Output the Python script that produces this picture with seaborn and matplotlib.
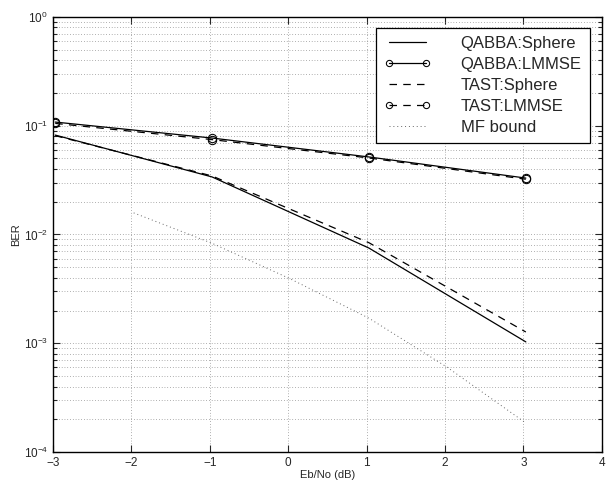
import matplotlib
matplotlib.use('Agg')
import matplotlib.pyplot as plt
import seaborn as sns
import numpy as np

sns.set_style('ticks')
plt.rcParams['font.family'] = ['Liberation Sans', 'DejaVu Sans']

# measured points (Eb/No in dB, BER)
snr = [-2.97, -0.97, 1.03, 3.03]
qabba_sphere = [0.082, 0.0338, 0.0075, 0.00103]
qabba_lmmse = [0.108, 0.077, 0.0516, 0.0330]
tast_sphere = [0.081, 0.0345, 0.0084, 0.00127]
tast_lmmse = [0.105, 0.0745, 0.0505, 0.0322]

mf_snr = [-1.97, -0.97, 0.03, 1.03, 2.03, 3.03]
mf_bound = [0.0158, 0.0083, 0.0039, 0.0017, 0.0006, 0.000185]

fig = plt.figure(figsize=(6.08, 4.83), dpi=100)
ax = fig.add_axes([0.087, 0.064, 0.903, 0.901])

sns.lineplot(x=snr, y=qabba_sphere, ax=ax, color='black', lw=0.9, label='QABBA:Sphere')
sns.lineplot(x=snr, y=qabba_lmmse, ax=ax, color='black', lw=0.9, marker='o', markersize=6,
             markerfacecolor='none', markeredgecolor='black', label='QABBA:LMMSE')
sns.lineplot(x=snr, y=tast_sphere, ax=ax, color='black', lw=0.9, label='TAST:Sphere')
sns.lineplot(x=snr, y=tast_lmmse, ax=ax, color='black', lw=0.9, marker='o', markersize=6,
             markerfacecolor='none', markeredgecolor='black', label='TAST:LMMSE')
sns.lineplot(x=mf_snr, y=mf_bound, ax=ax, color='#666666', lw=0.7, label='MF bound')

lines = ax.get_lines()
lines[2].set_linestyle((0, (6, 5)))
lines[3].set_linestyle((0, (6, 5)))
lines[4].set_linestyle((0, (1, 3)))

ax.set_yscale('log')
ax.set_xlim(-3, 4)
ax.set_ylim(1e-4, 1)
ax.set_xticks(range(-3, 5))
ax.set_xticklabels([f'\u2212{-v}' if v < 0 else str(v) for v in range(-3, 5)])
ax.yaxis.set_minor_locator(matplotlib.ticker.LogLocator(base=10, subs=np.arange(2, 10)))
ax.yaxis.set_minor_formatter(matplotlib.ticker.NullFormatter())

ax.grid(True, which='major', axis='both', color='#666666', ls=(0, (1, 3)), lw=0.5)
ax.grid(True, which='minor', axis='y', color='#666666', ls=(0, (1, 3)), lw=0.5)

ax.tick_params(which='both', direction='in', top=True, right=True, labelsize=8.5, width=0.8)
ax.tick_params(which='major', length=5)
ax.tick_params(which='minor', length=3)
for s in ax.spines.values():
    s.set_color('black')
    s.set_linewidth(1.0)

ax.set_xlabel('Eb/No (dB)', fontsize=8, labelpad=1)
ax.set_ylabel('BER', fontsize=8, labelpad=2)

leg = ax.legend(loc='upper right', bbox_to_anchor=(0.978, 0.975), borderaxespad=0,
                fontsize=12, frameon=True, numpoints=2,
                fancybox=False, framealpha=1, edgecolor='black', handlelength=2.8,
                borderpad=0.5, labelspacing=0.36, handletextpad=1.8)
leg.get_frame().set_linewidth(0.9)
for h in leg.legend_handles:
    h.set_markersize(4.5)

fig.savefig('out.png', dpi=100)
